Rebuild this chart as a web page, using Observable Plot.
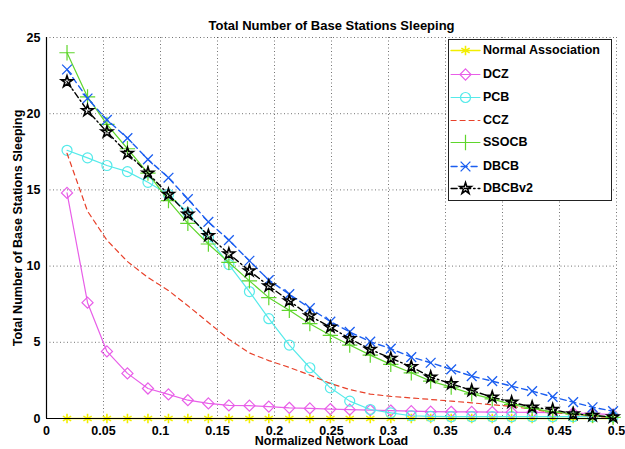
<!DOCTYPE html>
<html>
<head>
<meta charset="utf-8">
<script src="https://cdn.jsdelivr.net/npm/d3@7"></script>
<script src="https://cdn.jsdelivr.net/npm/@observablehq/plot@0.6"></script>
<style>
  body { margin: 0; background: #fff; font-family: "Liberation Sans", Arial, sans-serif; }
  #wrap { position: relative; width: 625px; height: 449px; overflow: hidden; }
  #legend { position: absolute; left: 448px; top: 39px; width: 164px; height: 162px;
    border: 1.5px solid #222; background: #fff; box-sizing: border-box; }
  .row { position: absolute; left: 0; height: 20px; display: flex; align-items: center; }
  .row span { font: bold 12.5px "Liberation Sans", Arial, sans-serif; color: #000; margin-left: 2px; }
</style>
</head>
<body>
<div id="wrap"><div id="legend"></div></div>
<script>
const xLoad = [0.018, 0.036, 0.053, 0.071, 0.089, 0.107, 0.124, 0.142, 0.160, 0.178,
  0.195, 0.213, 0.231, 0.249, 0.266, 0.284, 0.302, 0.320, 0.337, 0.355,
  0.373, 0.391, 0.408, 0.426, 0.444, 0.462, 0.479, 0.497];

const seriesNames = ["Normal Association", "DCZ", "PCB", "CCZ", "SSOCB", "DBCB", "DBCBv2"];

const normalAssoc = [0,0,0,0,0,0,0,0,0,0,0,0,0,0,0,0,0,0,0,0,0,0,0,0,0,0,0,0];
const dcz = [14.8, 7.6, 4.4, 2.96, 1.97, 1.58, 1.2, 0.99, 0.86, 0.84, 0.78, 0.7, 0.66, 0.62,
  0.58, 0.55, 0.52, 0.48, 0.45, 0.44, 0.43, 0.42, 0.41, 0.4, 0.38, 0.36, 0.32, 0.25];
const pcb = [17.6, 17.1, 16.6, 16.2, 15.5, 14.7, 13.5, 11.9, 10.1, 8.33, 6.55, 4.82, 3.33, 2.01,
  1.14, 0.59, 0.37, 0.18, 0.14, 0.12, 0.12, 0.12, 0.12, 0.12, 0.12, 0.12, 0.12, 0.12];
const ccz = [17.4, 13.6, 11.7, 10.3, 9.25, 8.4, 7.4, 6.3, 5.2, 4.3, 3.8, 3.35, 2.85, 2.3,
  1.9, 1.6, 1.45, 1.35, 1.25, 1.14, 1.03, 0.9, 0.8, 0.6, 0.4, 0.27, 0.15, 0.05];
const ssocb = [24.0, 21.1, 19.3, 17.7, 16.1, 14.3, 12.8, 11.45, 10.24, 9.03, 7.93, 7.1, 6.22, 5.46,
  4.82, 4.16, 3.55, 3.0, 2.45, 2.06, 1.62, 1.29, 0.92, 0.66, 0.43, 0.30, 0.2, 0.08];
const dbcb = [22.9, 21.0, 19.6, 18.4, 17.0, 15.8, 14.4, 12.9, 11.7, 10.35, 9.08, 8.16, 7.24, 6.36,
  5.68, 5.04, 4.58, 4.03, 3.66, 3.22, 2.78, 2.45, 2.12, 1.80, 1.42, 1.07, 0.74, 0.48];
const dbcbv2 = [22.1, 20.2, 18.8, 17.4, 16.1, 14.7, 13.4, 12.0, 10.8, 9.69, 8.70, 7.72, 6.73, 6.0,
  5.24, 4.54, 3.95, 3.40, 2.72, 2.28, 1.84, 1.40, 1.07, 0.74, 0.59, 0.30, 0.2, 0.1];

const xTicks = [0, 0.05, 0.1, 0.15, 0.2, 0.25, 0.3, 0.35, 0.4, 0.45, 0.5];
const xTickLabels = ["0", "0.05", "0.1", "0.15", "0.2", "0.25", "0.3", "0.35", "0.4", "0.45", "0.5"];
const yTicks = [0, 5, 10, 15, 20, 25];
const yTickLabels = ["0", "5", "10", "15", "20", "25"];

const titleText = "Total Number of Base Stations Sleeping";
const xLabelText = "Normalized Network Load";
const yLabelText = "Total Number of Base Stations Sleeping";

const seriesValues = [normalAssoc, dcz, pcb, ccz, ssocb, dbcb, dbcbv2];
const styles = {
  "Normal Association": {color: "#f2ee00", dash: null, symbol: "asterisk", r: 4.5, w: 1.6, mw: 1.6},
  "DCZ": {color: "#e85ee8", dash: null, symbol: "diamond2", r: 5, w: 1.2, mw: 1.2},
  "PCB": {color: "#55eaea", dash: null, symbol: "circle", r: 5, w: 1.2, mw: 1.2},
  "CCZ": {color: "#e8412a", dash: "5,4", symbol: null, w: 1.2},
  "SSOCB": {color: "#5fd62c", dash: null, symbol: "plus", r: 5, w: 1.2, mw: 1.2},
  "DBCB": {color: "#1b5ef0", dash: "6,4", symbol: "times", r: 4.5, w: 1.4, mw: 1.3},
  "DBCBv2": {color: "#000000", dash: "6,3,1.5,3", symbol: "star", r: 3.6, w: 1.4, mw: 1.6}
};

const rows = [];
seriesNames.forEach((name, k) => {
  seriesValues[k].forEach((v, i) => rows.push({series: name, x: xLoad[i], y: v}));
});

const marks = [
  Plot.gridX(xTicks, {stroke: "#000", strokeOpacity: 0.55, strokeDasharray: "1,2.5"}),
  Plot.gridY(yTicks, {stroke: "#000", strokeOpacity: 0.55, strokeDasharray: "1,2.5"}),
  Plot.axisX(xTicks, {tickSize: 0, tickPadding: 8, tickFormat: (d, i) => xTickLabels[i],
    fontWeight: "bold", fontSize: 12.5, label: null}),
  Plot.axisY(yTicks, {tickSize: 0, tickPadding: 6, tickFormat: (d, i) => yTickLabels[i],
    fontWeight: "bold", fontSize: 12.5, label: null}),
];
seriesNames.forEach(name => {
  const s = styles[name];
  const data = rows.filter(d => d.series === name);
  marks.push(Plot.line(data, {x: "x", y: "y", stroke: s.color, strokeWidth: s.w,
    strokeDasharray: s.dash || undefined}));
  if (s.symbol) {
    marks.push(Plot.dot(data, {x: "x", y: "y", symbol: s.symbol, r: s.r, stroke: s.color,
      fill: "none", strokeWidth: s.mw}));
  }
});
marks.push(
  Plot.ruleX([0], {stroke: "#000", strokeWidth: 1.2}),
  Plot.ruleY([0], {stroke: "#000", strokeWidth: 1.2}),
  Plot.text([titleText], {frameAnchor: "top", dy: -17, fontWeight: "bold", fontSize: 13}),
  Plot.text([xLabelText], {frameAnchor: "bottom", dy: 26.5, fontWeight: "bold", fontSize: 12.5}),
  Plot.text([yLabelText], {frameAnchor: "left", textAnchor: "middle", dx: -29, rotate: -90,
    fontWeight: "bold", fontSize: 12.5})
);

const chart = Plot.plot({
  width: 625,
  height: 449,
  marginLeft: 46,
  marginRight: 9,
  marginTop: 37,
  marginBottom: 31,
  style: {fontFamily: "'Liberation Sans', Arial, sans-serif", color: "#000", background: "#fff"},
  x: {domain: [0, 0.5]},
  y: {domain: [0, 25]},
  marks
});
document.getElementById("wrap").prepend(chart);

// Legend (HTML overlay)
const legend = document.getElementById("legend");
const rowTops = [0, 23.5, 46.5, 69.5, 92, 116, 138];
seriesNames.forEach((name, k) => {
  const s = styles[name];
  const row = document.createElement("div");
  row.className = "row";
  row.style.top = rowTops[k] + "px";
  const sw = Plot.plot({
    width: 32, height: 20, margin: 0,
    x: {domain: [0, 1], axis: null}, y: {domain: [0, 1], axis: null},
    marks: [
      Plot.line([{x: 0.05, y: 0.5}, {x: 0.95, y: 0.5}], {x: "x", y: "y", stroke: s.color, strokeWidth: s.w,
        strokeDasharray: s.dash || undefined}),
      s.symbol ? Plot.dot([{x: 0.5, y: 0.5}], {x: "x", y: "y", symbol: s.symbol, r: s.r,
        stroke: s.color, fill: "none", strokeWidth: s.mw}) : null
    ]
  });
  sw.style.display = "block";
  row.appendChild(sw);
  const t = document.createElement("span");
  t.textContent = name;
  row.appendChild(t);
  legend.appendChild(row);
});
</script>
</body>
</html>
